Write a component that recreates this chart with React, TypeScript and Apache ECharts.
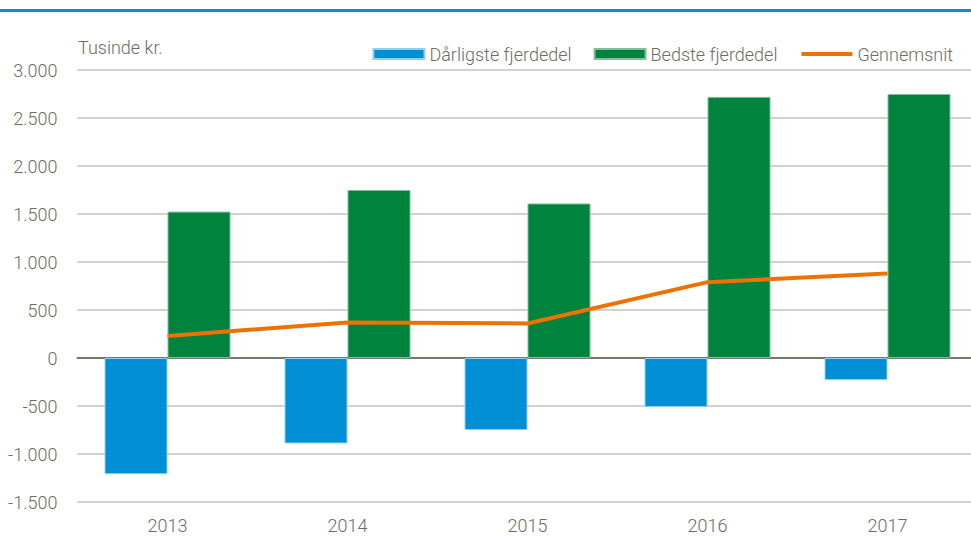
import React, { useEffect, useRef } from "react";
import * as echarts from "echarts";

const categories = ["2013", "2014", "2015", "2016", "2017"];
const worstQuarter = [-1210, -890, -750, -510, -230];
const bestQuarter = [1525, 1750, 1610, 2720, 2750];
const average = [230, 370, 360, 790, 880];
const seriesNames = ["Dårligste fjerdedel", "Bedste fjerdedel", "Gennemsnit"];
const unitLabel = "Tusinde kr.";

const FONT = '"Liberation Sans Narrow", "Arial Narrow", Roboto, sans-serif';
const WEIGHT = 300;
const SIZE = 18;
const TEXT = "#6d6d5f";

function fmt(v: number): string {
  const s = Math.abs(v).toString().replace(/\B(?=(\d{3})+(?!\d))/g, ".");
  return (v < 0 ? "-" : "") + s;
}

export default function App() {
  const ref = useRef<HTMLDivElement>(null);
  useEffect(() => {
    if (!ref.current) return;
    const chart = echarts.init(ref.current, undefined, { renderer: "svg" });
    chart.setOption({
      animation: false,
      textStyle: { fontFamily: FONT, fontWeight: WEIGHT },
      graphic: [
        {
          type: "rect",
          shape: { x: 0, y: 9, width: 971, height: 3 },
          style: { fill: "#0090d4" },
          silent: true,
        },
        {
          type: "text",
          left: 78,
          top: 38,
          style: { text: unitLabel, fill: TEXT, font: `${WEIGHT} ${SIZE}px ${FONT}` },
        },
      ],
      legend: {
        right: 13,
        top: 40,
        itemWidth: 51,
        itemHeight: 10,
        itemGap: 22,
        textStyle: { color: TEXT, fontSize: SIZE, fontFamily: FONT, fontWeight: WEIGHT },
        data: [
          { name: seriesNames[0], icon: "rect" },
          { name: seriesNames[1], icon: "rect" },
          {
            name: seriesNames[2],
            itemStyle: { color: "rgba(0,0,0,0)", borderWidth: 0 },
            lineStyle: { width: 4 },
          },
        ],
      },
      grid: {
        left: 77.5,
        width: 900,
        top: 70,
        bottom: 38,
        containLabel: false,
        outerBoundsMode: "none",
      },
      xAxis: {
        type: "category",
        data: categories,
        axisLine: { onZero: true, lineStyle: { color: "#77776a", width: 2 } },
        axisTick: { show: false },
        axisLabel: { color: TEXT, fontSize: SIZE, fontFamily: FONT, fontWeight: WEIGHT, margin: 14, interval: 0 },
        position: "bottom",
      },
      yAxis: {
        type: "value",
        min: -1500,
        max: 3000,
        interval: 500,
        axisLine: { show: false },
        axisTick: { show: false },
        splitLine: { lineStyle: { color: "#d3d3cb", width: 2 } },
        axisLabel: {
          color: TEXT,
          fontSize: SIZE,
          fontFamily: FONT,
          fontWeight: WEIGHT,
          margin: 20,
          formatter: (v: number) => fmt(v),
        },
      },
      series: [
        {
          name: seriesNames[0],
          type: "bar",
          data: worstQuarter,
          barWidth: 63,
          barGap: "0%",
          itemStyle: { color: "#008fd5", borderColor: "#8fd0ef", borderWidth: 1 },
        },
        {
          name: seriesNames[1],
          type: "bar",
          data: bestQuarter,
          barWidth: 63,
          barGap: "0%",
          itemStyle: { color: "#00843d", borderColor: "#7fc09c", borderWidth: 1 },
        },
        {
          name: seriesNames[2],
          type: "line",
          data: average,
          symbol: "none",
          lineStyle: { color: "#ee7203", width: 4 },
          itemStyle: { color: "#ee7203" },
          z: 5,
        },
      ],
    });
    return () => chart.dispose();
  }, []);
  return (
    <div
      ref={ref}
      style={{ position: "fixed", left: 0, top: 0, width: 971, height: 540, background: "#fff", overflow: "hidden" }}
    />
  );
}
